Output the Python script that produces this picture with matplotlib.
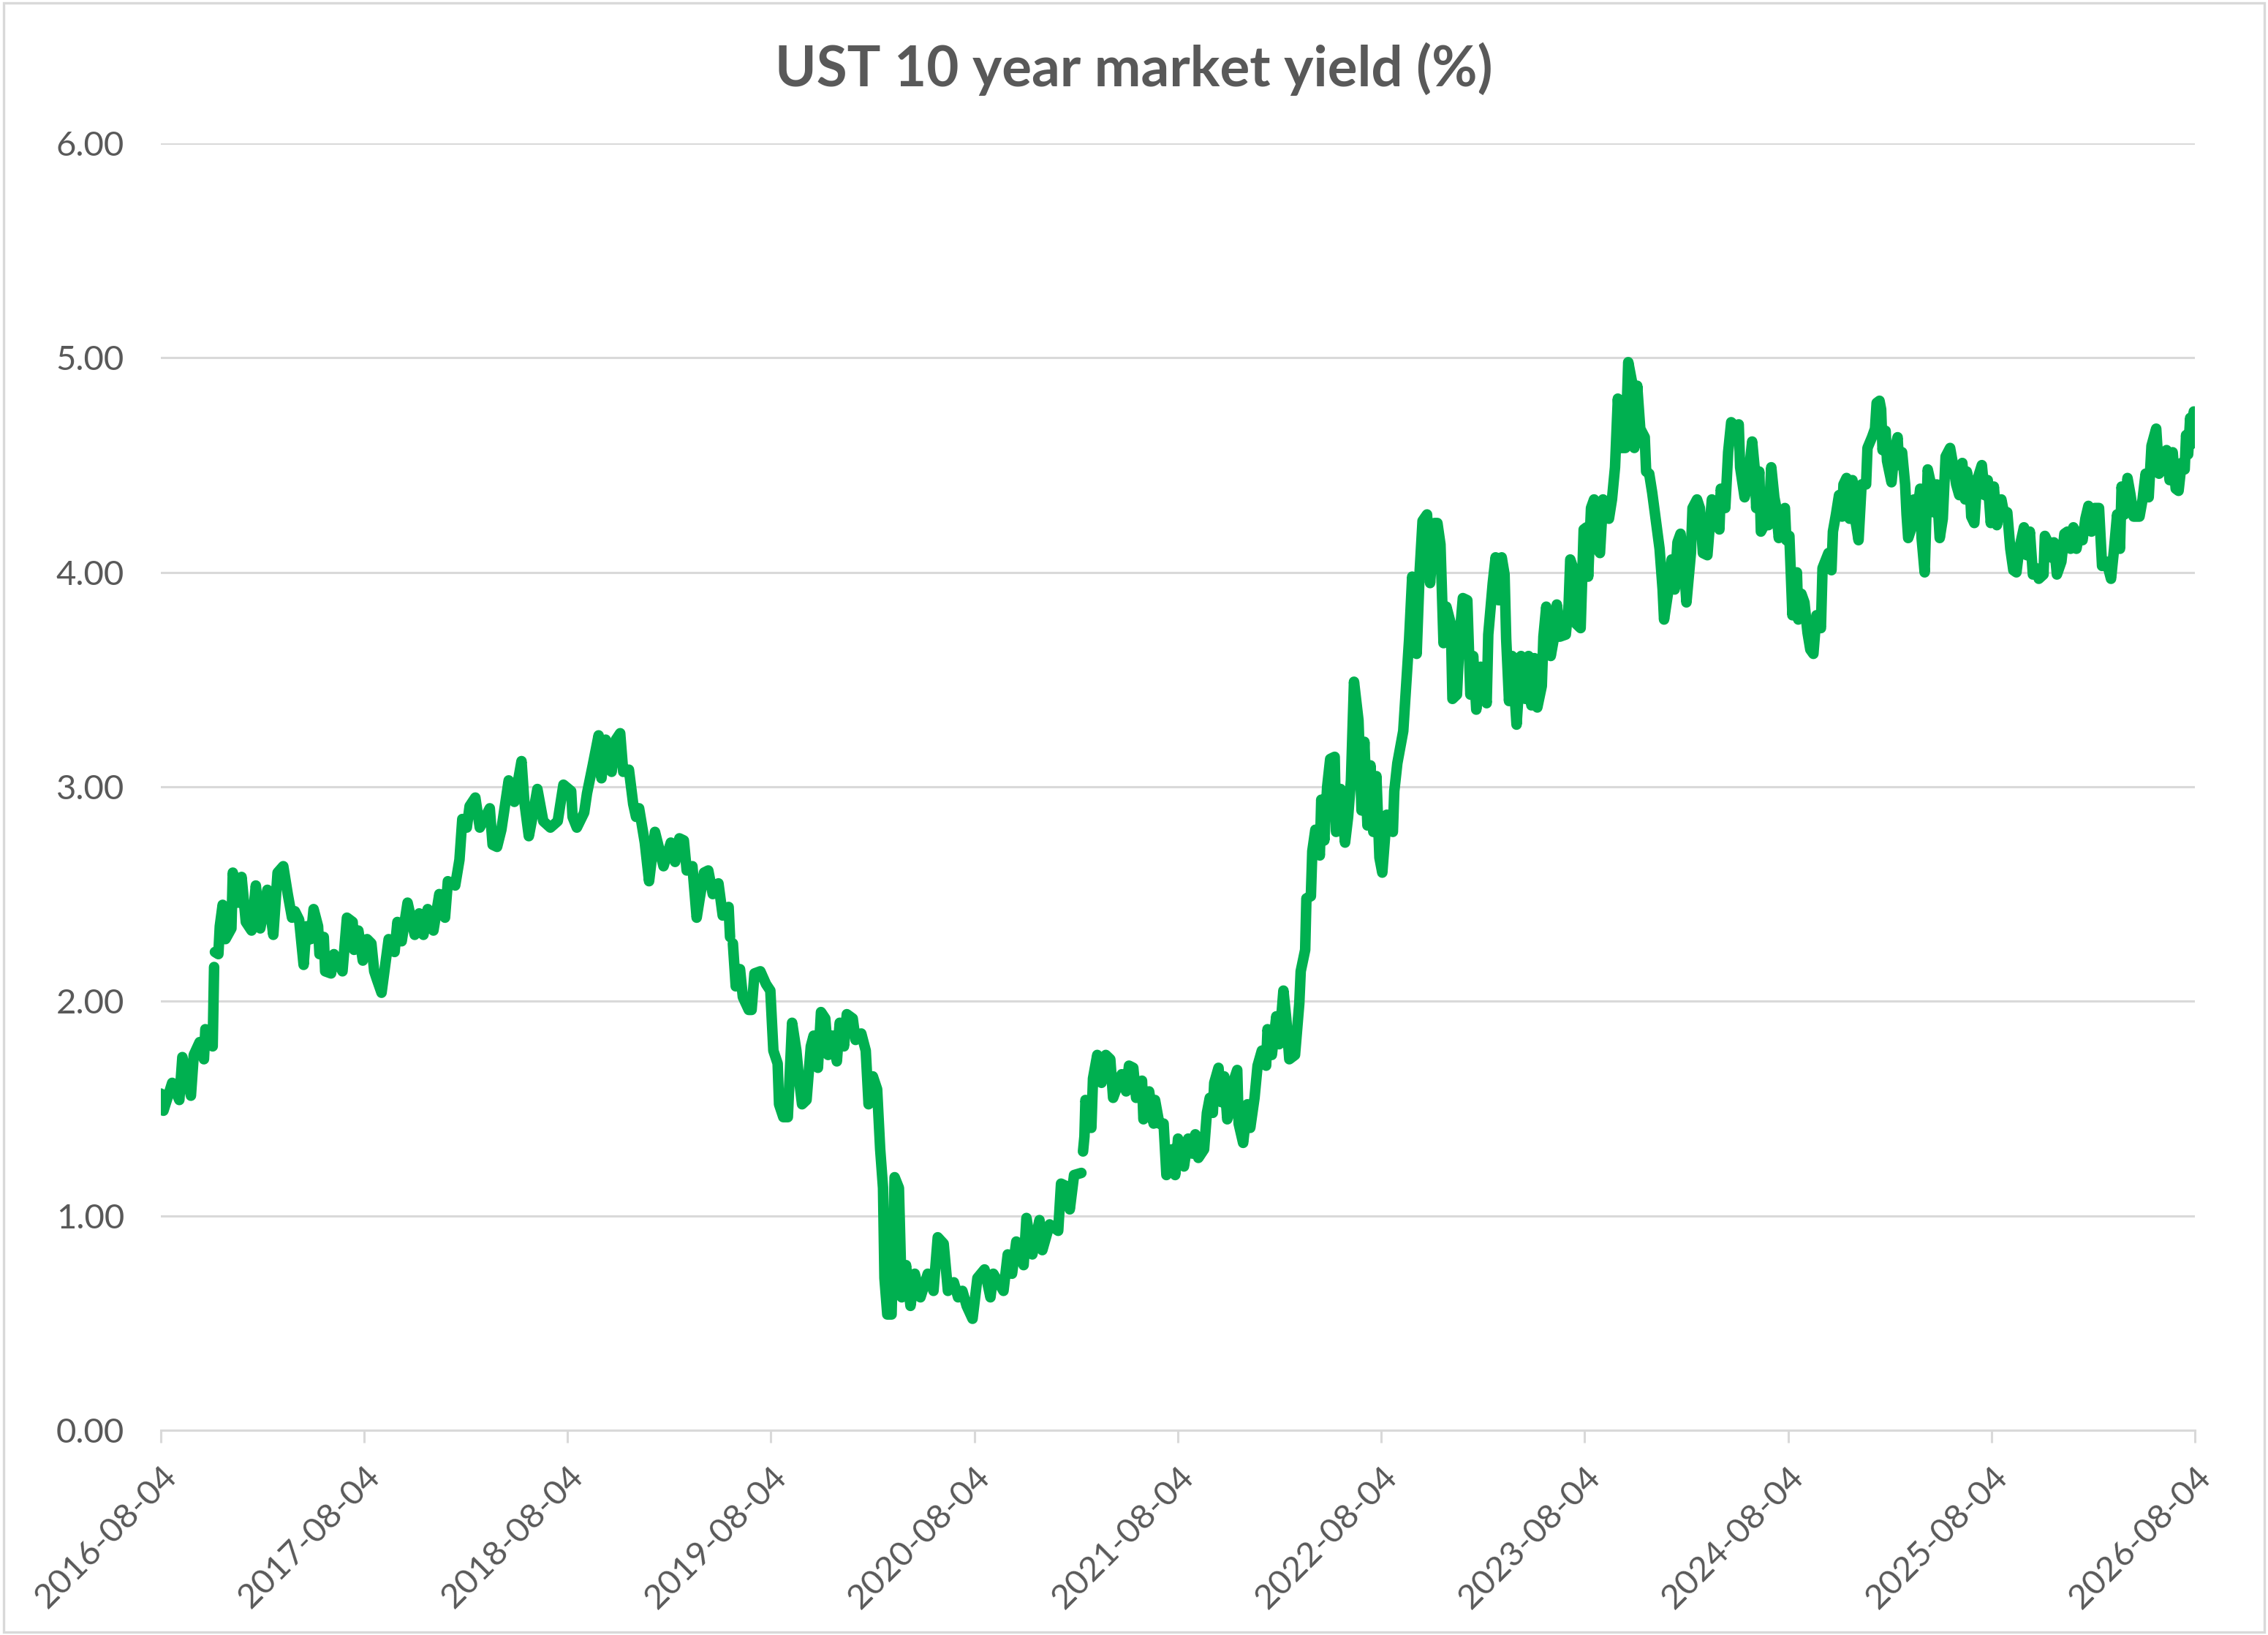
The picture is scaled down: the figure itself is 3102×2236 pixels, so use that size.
import numpy as np
import pandas as pd
import matplotlib
matplotlib.use("Agg")
import matplotlib.pyplot as plt

plt.rcParams['font.family'] = ['Lato', 'DejaVu Sans']

# x position of each reading, in years after 2016-08-04 (first tick)
yrs_2016_2019 = [
    0.000, 0.013, 0.056, 0.091, 0.106, 0.148, 0.162, 0.191, 0.212, 0.219, 0.255, 0.262,
    0.264, 0.266, 0.283, 0.290, 0.304, 0.318, 0.347, 0.354, 0.382, 0.397, 0.418, 0.446,
    0.467, 0.489, 0.524, 0.553, 0.574, 0.602, 0.624, 0.645, 0.659, 0.680, 0.702, 0.716,
    0.737, 0.751, 0.773, 0.780, 0.801, 0.808, 0.837, 0.851, 0.893, 0.915, 0.943, 0.950,
    0.971, 0.993, 1.014, 1.035, 1.049, 1.063, 1.085, 1.106, 1.120, 1.149, 1.163, 1.184,
    1.213, 1.248, 1.270, 1.291, 1.312, 1.340, 1.369, 1.397, 1.411, 1.447, 1.468, 1.482,
    1.504, 1.518, 1.546, 1.568, 1.617, 1.631, 1.653, 1.674, 1.710, 1.738, 1.773, 1.787,
    1.809, 1.823, 1.851, 1.880, 1.915, 1.951, 1.979, 2.017, 2.024, 2.045, 2.081, 2.095,
    2.123, 2.152, 2.166, 2.187, 2.216, 2.237, 2.258, 2.273, 2.301, 2.322, 2.336, 2.351,
    2.379, 2.400, 2.429, 2.450, 2.471, 2.507, 2.528, 2.549, 2.571, 2.585, 2.613, 2.634,
    2.649, 2.670, 2.691, 2.713, 2.741, 2.762, 2.791, 2.798, 2.805, 2.812, 2.826, 2.847,
    2.861, 2.890, 2.904, 2.918, 2.947, 2.975, 2.996,
]
yld_2016_2019 = [
    1.57, 1.49, 1.62, 1.54, 1.74, 1.56, 1.75, 1.81, 1.73, 1.87, 1.79, 2.16,
    np.nan, 2.23, 2.22, 2.35, 2.45, 2.29, 2.34, 2.60, 2.46, 2.58, 2.37, 2.33,
    2.54, 2.34, 2.52, 2.31, 2.60, 2.63, 2.50, 2.39, 2.42, 2.38, 2.17, 2.35,
    2.29, 2.43, 2.35, 2.22, 2.30, 2.14, 2.13, 2.22, 2.14, 2.39, 2.37, 2.24,
    2.33, 2.19, 2.29, 2.27, 2.14, 2.10, 2.04, 2.19, 2.29, 2.23, 2.37, 2.28,
    2.46, 2.31, 2.41, 2.31, 2.43, 2.33, 2.50, 2.39, 2.56, 2.54, 2.66, 2.85,
    2.81, 2.91, 2.95, 2.81, 2.90, 2.73, 2.72, 2.80, 3.03, 2.93, 3.12, 2.93,
    2.77, 2.84, 2.99, 2.84, 2.81, 2.84, 3.01, 2.98, 2.86, 2.81, 2.88, 2.97,
    3.10, 3.24, 3.04, 3.22, 3.07, 3.22, 3.25, 3.07, 3.08, 2.92, 2.86, 2.90,
    2.74, 2.56, 2.79, 2.71, 2.63, 2.74, 2.65, 2.76, 2.75, 2.61, 2.63, 2.39,
    2.48, 2.60, 2.61, 2.50, 2.55, 2.40, 2.44, 2.30, np.nan, 2.27, 2.07, 2.15,
    2.02, 1.96, 1.96, 2.13, 2.14, 2.08, 2.05,
]

yrs_2019_2022 = [
    3.011, 3.032, 3.039, 3.060, 3.082, 3.103, 3.124, 3.138, 3.152, 3.174, 3.195, 3.209,
    3.230, 3.245, 3.266, 3.280, 3.301, 3.323, 3.337, 3.358, 3.372, 3.401, 3.415, 3.443,
    3.465, 3.479, 3.500, 3.521, 3.536, 3.550, 3.557, 3.571, 3.592, 3.607, 3.628, 3.642,
    3.663, 3.685, 3.706, 3.734, 3.770, 3.798, 3.819, 3.848, 3.869, 3.898, 3.919, 3.940,
    3.961, 3.990, 4.014, 4.049, 4.078, 4.092, 4.142, 4.163, 4.184, 4.205, 4.241, 4.255,
    4.284, 4.319, 4.333, 4.369, 4.411, 4.425, 4.447, 4.468, 4.489, 4.525, 4.529, 4.533,
    4.540, 4.545, 4.574, 4.582, 4.603, 4.624, 4.645, 4.667, 4.681, 4.723, 4.745, 4.759,
    4.780, 4.794, 4.823, 4.830, 4.858, 4.880, 4.887, 4.908, 4.929, 4.943, 4.972, 4.986,
    5.000, 5.029, 5.050, 5.071, 5.085, 5.100, 5.128, 5.142, 5.156, 5.171, 5.178, 5.199,
    5.213, 5.227, 5.242, 5.263, 5.277, 5.291, 5.298, 5.320, 5.341, 5.355, 5.376, 5.391,
    5.412, 5.433, 5.440, 5.461, 5.483, 5.497, 5.518, 5.532, 5.547, 5.575, 5.596, 5.603,
    5.625,
]
yld_2019_2022 = [
    1.77, 1.71, 1.52, 1.46, 1.46, 1.90, 1.77, 1.63, 1.52, 1.54, 1.79, 1.84,
    1.69, 1.95, 1.92, 1.75, 1.84, 1.72, 1.90, 1.79, 1.94, 1.92, 1.82, 1.85,
    1.77, 1.52, 1.65, 1.59, 1.31, 1.13, 0.71, 0.54, 0.54, 1.18, 1.13, 0.62,
    0.77, 0.58, 0.73, 0.62, 0.73, 0.65, 0.90, 0.87, 0.65, 0.69, 0.62, 0.65,
    0.58, 0.52, 0.71, 0.75, 0.62, 0.73, 0.65, 0.82, 0.73, 0.88, 0.77, 0.99,
    0.82, 0.98, 0.84, 0.96, 0.93, 1.15, 1.14, 1.03, 1.19, 1.20, np.nan, 1.30,
    1.37, 1.54, 1.41, 1.64, 1.75, 1.62, 1.75, 1.73, 1.55, 1.66, 1.58, 1.70,
    1.69, 1.55, 1.63, 1.45, 1.58, 1.43, 1.54, 1.43, 1.43, 1.19, 1.31, 1.19,
    1.36, 1.23, 1.36, 1.29, 1.38, 1.27, 1.31, 1.48, 1.55, 1.48, 1.62, 1.69,
    1.53, 1.65, 1.45, 1.51, 1.64, 1.68, 1.43, 1.34, 1.52, 1.41, 1.55, 1.70,
    1.77, 1.70, 1.87, 1.75, 1.93, 1.80, 2.05, 1.92, 1.73, 1.75, 1.99, 2.14,
    2.24,
]

yrs_2022_2024 = [
    5.631, 5.653, 5.660, 5.675, 5.697, 5.704, 5.719, 5.733, 5.748, 5.770, 5.777, 5.799,
    5.821, 5.836, 5.850, 5.865, 5.887, 5.902, 5.916, 5.931, 5.946, 5.960, 5.975, 5.990,
    6.004, 6.026, 6.056, 6.063, 6.078, 6.107, 6.122, 6.136, 6.151, 6.173, 6.188, 6.202,
    6.224, 6.239, 6.261, 6.275, 6.290, 6.305, 6.319, 6.341, 6.349, 6.371, 6.385, 6.400,
    6.422, 6.437, 6.451, 6.466, 6.488, 6.517, 6.525, 6.539, 6.547, 6.561, 6.576, 6.591,
    6.605, 6.613, 6.627, 6.642, 6.664, 6.686, 6.708, 6.723, 6.737, 6.752, 6.766, 6.788,
    6.796, 6.810, 6.832, 6.847, 6.862, 6.876, 6.906, 6.920, 6.928, 6.942, 6.957, 6.979,
    6.994, 7.008, 7.016, 7.030, 7.045, 7.060, 7.074, 7.089, 7.104, 7.118, 7.133, 7.148,
    7.162, 7.177, 7.199, 7.213, 7.235, 7.243, 7.257, 7.272, 7.294, 7.301, 7.316, 7.331,
    7.345, 7.353, 7.367, 7.382, 7.389, 7.411, 7.426, 7.441, 7.455, 7.470, 7.485, 7.499,
    7.521, 7.529, 7.551, 7.565, 7.580, 7.602, 7.624, 7.646, 7.661, 7.668, 7.690, 7.704,
    7.719, 7.741, 7.756, 7.763, 7.785, 7.800, 7.822,
]
yld_2022_2024 = [
    2.48, 2.49, 2.70, 2.80, 2.68, 2.94, 2.75, 3.00, 3.13, 3.14, 2.79, 2.99,
    2.74, 2.86, 3.03, 3.49, 3.31, 2.89, 3.21, 2.82, 3.10, 2.79, 3.05, 2.67,
    2.60, 2.87, 2.79, 2.98, 3.11, 3.26, 3.48, 3.69, 3.98, 3.62, 4.01, 4.24,
    4.27, 3.95, 4.23, 4.23, 4.13, 3.67, 3.84, 3.76, 3.41, 3.43, 3.71, 3.88,
    3.87, 3.43, 3.61, 3.36, 3.56, 3.39, 3.71, 3.86, 3.95, 4.07, 3.87, 4.07,
    3.99, 3.69, 3.40, 3.61, 3.29, 3.61, 3.41, 3.61, 3.38, 3.60, 3.37, 3.47,
    3.70, 3.84, 3.61, 3.69, 3.85, 3.70, 3.71, 3.85, 4.06, 4.02, 3.76, 3.74,
    4.20, 4.21, 3.98, 4.30, 4.34, 4.11, 4.09, 4.34, 4.32, 4.25, 4.34, 4.49,
    4.81, 4.58, 4.58, 4.98, 4.87, 4.58, 4.87, 4.67, 4.63, 4.47, 4.46, 4.37,
    4.27, 4.21, 4.11, 3.92, 3.78, 3.92, 4.06, 3.92, 4.14, 4.18, 4.06, 3.86,
    4.09, 4.30, 4.34, 4.30, 4.09, 4.08, 4.34, 4.30, 4.20, 4.39, 4.30, 4.56,
    4.70, 4.68, 4.69, 4.49, 4.35, 4.41, 4.61,
]

yrs_2024_2026 = [
    7.835, 7.842, 7.857, 7.865, 7.887, 7.902, 7.916, 7.931, 7.939, 7.953, 7.968, 7.983,
    7.990, 8.005, 8.012, 8.020, 8.042, 8.049, 8.064, 8.079, 8.094, 8.108, 8.123, 8.138,
    8.160, 8.168, 8.197, 8.212, 8.219, 8.234, 8.249, 8.264, 8.271, 8.286, 8.301, 8.315,
    8.330, 8.345, 8.360, 8.382, 8.389, 8.411, 8.426, 8.434, 8.448, 8.456, 8.463, 8.478,
    8.485, 8.507, 8.522, 8.537, 8.544, 8.559, 8.574, 8.581, 8.589, 8.603, 8.618, 8.633,
    8.648, 8.655, 8.670, 8.685, 8.699, 8.714, 8.729, 8.744, 8.759, 8.773, 8.795, 8.810,
    8.825, 8.840, 8.855, 8.869, 8.877, 8.892, 8.899, 8.914, 8.928, 8.951, 8.965, 8.980,
    8.995, 9.010, 9.025, 9.047, 9.061, 9.076, 9.091, 9.106, 9.121, 9.135, 9.158, 9.172,
    9.187, 9.202, 9.217, 9.231, 9.254, 9.261, 9.276, 9.290, 9.305, 9.320, 9.342, 9.357,
    9.372, 9.387, 9.401, 9.416, 9.431, 9.446, 9.460, 9.475, 9.490, 9.505, 9.527, 9.542,
    9.564, 9.586, 9.601, 9.616, 9.630, 9.638, 9.652, 9.667, 9.682, 9.697, 9.726, 9.741,
    9.756, 9.771, 9.785, 9.808, 9.822, 9.837, 9.859, 9.874, 9.889, 9.904, 9.918, 9.933,
    9.948, 9.955, 9.965, 9.975, 9.985, 9.993, 10.000,
]
yld_2024_2026 = [
    4.48, 4.30, 4.47, 4.19, 4.23, 4.22, 4.49, 4.35, 4.31, 4.16, 4.28, 4.30,
    4.15, 4.17, 4.00, 3.80, 4.00, 3.78, 3.90, 3.86, 3.72, 3.64, 3.62, 3.80,
    3.74, 4.02, 4.09, 4.01, 4.19, 4.27, 4.36, 4.26, 4.41, 4.44, 4.25, 4.43,
    4.24, 4.15, 4.41, 4.41, 4.58, 4.63, 4.67, 4.79, 4.80, 4.76, 4.57, 4.66,
    4.52, 4.42, 4.57, 4.63, 4.50, 4.56, 4.41, 4.27, 4.16, 4.20, 4.34, 4.27,
    4.39, 4.16, 4.00, 4.48, 4.42, 4.28, 4.41, 4.16, 4.25, 4.54, 4.58, 4.50,
    4.41, 4.36, 4.51, 4.34, 4.47, 4.40, 4.26, 4.23, 4.43, 4.50, 4.36, 4.43,
    4.23, 4.40, 4.22, 4.34, 4.27, 4.28, 4.11, 4.01, 4.00, 4.11, 4.21, 4.08,
    4.19, 3.99, 4.02, 3.97, 3.99, 4.17, 4.14, 4.07, 4.14, 3.99, 4.05, 4.18,
    4.19, 4.11, 4.21, 4.11, 4.19, 4.15, 4.25, 4.31, 4.19, 4.30, 4.30, 4.03,
    4.05, 3.97, 4.11, 4.27, 4.11, 4.40, 4.27, 4.44, 4.36, 4.26, 4.26, 4.34,
    4.46, 4.35, 4.59, 4.67, 4.46, 4.51, 4.57, 4.43, 4.56, 4.39, 4.38, 4.51,
    4.48, 4.64, 4.55, 4.72, 4.60, 4.75, 4.63,
]

tick_years = list(range(2016, 2027))
y_ticks = [0, 1, 2, 3, 4, 5, 6]

yrs = yrs_2016_2019 + yrs_2019_2022 + yrs_2022_2024 + yrs_2024_2026
yld = yld_2016_2019 + yld_2019_2022 + yld_2022_2024 + yld_2024_2026

start = pd.Timestamp('2016-08-04')
dates = start + pd.to_timedelta(np.array(yrs) * 365.25, unit='D')
df = pd.DataFrame({'date': dates, 'yield': yld})

grey_text = '#595959'
grey_line = '#D9D9D9'

fig = plt.figure(figsize=(15.51, 11.18), dpi=200)
ax = fig.add_axes([0.0709, 0.1252, 0.8969, 0.7871])

ax.plot(df['date'], df['yield'], color='#00B050', lw=5.2,
        solid_joinstyle='round', solid_capstyle='round', zorder=3)

ax.set_ylim(0, 6)
ax.set_yticks(y_ticks)
ax.set_yticklabels([f'{v:.2f}' for v in y_ticks])
ax.set_xlim(pd.Timestamp('2016-08-04'), pd.Timestamp('2026-08-04'))
xt = [pd.Timestamp(f'{y}-08-04') for y in tick_years]
ax.set_xticks(xt)
ax.set_xticklabels([d.strftime('%Y-%m-%d') for d in xt], rotation=45, ha='right',
                   rotation_mode='anchor')

ax.grid(axis='y', color=grey_line, lw=1.1, zorder=0)
for s in ['top', 'right', 'left']:
    ax.spines[s].set_visible(False)
ax.spines['bottom'].set_color(grey_line)
ax.spines['bottom'].set_linewidth(1.1)
ax.tick_params(axis='y', length=0, pad=18, labelsize=17, labelcolor=grey_text)
ax.tick_params(axis='x', length=6, width=1.1, color=grey_line, pad=9,
               labelsize=17, labelcolor=grey_text)

fig.text(0.5, 0.958, 'UST 10 year market yield (%)', ha='center', va='center',
         fontsize=27.5, fontweight='bold', color=grey_text)

fig.add_artist(plt.Rectangle((0.0015, 0.002), 0.997, 0.996, transform=fig.transFigure,
                             fill=False, edgecolor=grey_line, lw=1.2))

fig.savefig('out.png', dpi=200)
